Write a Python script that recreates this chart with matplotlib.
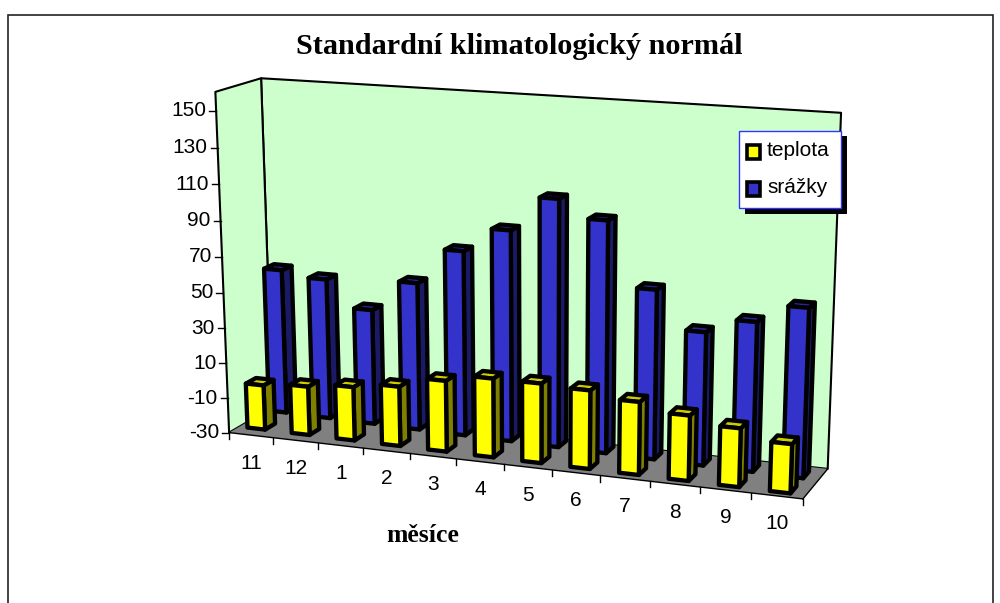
import numpy as np
import matplotlib
matplotlib.use("Agg")
import matplotlib.pyplot as plt
from matplotlib.patches import Polygon, Rectangle

months = ["11", "12", "1", "2", "3", "4", "5", "6", "7", "8", "9", "10"]
teplota = [-2.5, -0.5, 2, 5, 11, 15, 15, 14, 10.5, 6, 2, -3.5]
srazky = [57, 54, 39, 56.5, 76.5, 90, 109, 99.5, 64.5, 44, 52, 62]
z_ticks = [-30, -10, 10, 30, 50, 70, 90, 110, 130, 150]
Z_MIN, Z_MAX = -30, 160

# camera calibration: (category position, depth, value) -> pixel
calib_world = [(0, 0, Z_MIN), (0, 1, Z_MIN), (12, 1, Z_MIN), (12, 0, Z_MIN),
               (0, 0, Z_MAX), (0, 1, Z_MAX), (12, 1, Z_MAX)]
calib_px = [(228, 428), (273.5, 412), (826.7, 466), (804, 501.7),
            (215.5, 94), (261, 76), (841, 113)]
A, b = [], []
for (X, D, Z), (u, v) in zip(calib_world, calib_px):
    A.append([X, D, Z, 1, 0, 0, 0, 0, -u*X, -u*D, -u*Z]); b.append(u)
    A.append([0, 0, 0, 0, X, D, Z, 1, -v*X, -v*D, -v*Z]); b.append(v)
P = np.append(np.linalg.lstsq(np.array(A, float), np.array(b, float), rcond=None)[0], 1).reshape(3, 4)


def proj(x, d, z):
    q = P @ np.array([x, d, z, 1.0])
    return q[0] / q[2], q[1] / q[2]


def face(ax, pts, color, lw=0.0, zo=1, ec="black"):
    ax.add_patch(Polygon([proj(*p) for p in pts], closed=True, facecolor=color,
                         edgecolor=ec, linewidth=lw, joinstyle="round", zorder=zo))


def bar(ax, i, value, d0, d1, front, side, top, zo, lift):
    x0, x1 = i + 0.30, i + 0.70
    zb, zt = Z_MIN + lift * (11 - i) / 11, value
    w = 3.1
    face(ax, [(x1, d0, zb), (x1, d1, zb), (x1, d1, zt), (x1, d0, zt)], side, w, zo)
    face(ax, [(x0, d0, zt), (x1, d0, zt), (x1, d1, zt), (x0, d1, zt)], top, w, zo)
    face(ax, [(x0, d0, zb), (x1, d0, zb), (x1, d0, zt), (x0, d0, zt)], front, w, zo)


fig = plt.figure(figsize=(10, 6.03), dpi=100)
ax = fig.add_axes([0, 0, 1, 1])
ax.set_xlim(0, 1000)
ax.set_ylim(603, 0)
ax.axis("off")

SANS = "Liberation Sans"
SERIF = "Liberation Serif"

ax.add_patch(Rectangle((8, 15), 985, 620, facecolor="white", edgecolor="#222222", linewidth=1.2, zorder=0))

WALL = "#CCFFCC"
face(ax, [(0, 1, Z_MIN), (12, 1, Z_MIN), (12, 1, Z_MAX), (0, 1, Z_MAX)], WALL, 1.5, 1)
face(ax, [(0, 0, Z_MIN), (0, 1, Z_MIN), (0, 1, Z_MAX), (0, 0, Z_MAX)], WALL, 1.5, 1)
face(ax, [(0, 0, Z_MIN), (12, 0, Z_MIN), (12, 1, Z_MIN), (0, 1, Z_MIN)], "#808080", 0.0, 1.2)
for a, c in [((0, 0, Z_MIN), (12, 0, Z_MIN)), ((12, 0, Z_MIN), (12, 1, Z_MIN))]:
    pa, pc = proj(*a), proj(*c)
    ax.plot([pa[0], pc[0]], [pa[1], pc[1]], color="black", lw=1.0, zorder=1.3)

# value axis ticks
for z in z_ticks:
    x, y = proj(0, 0, z)
    ax.plot([x - 7, x], [y, y], color="black", lw=1.0, zorder=1.3)
    ax.text(x - 10, y, str(z), ha="right", va="center", fontsize=15, family=SANS, color="black")

# category ticks and labels
for i, m in enumerate(months + [None]):
    x, y = proj(i, 0, Z_MIN)
    ax.plot([x, x], [y, y + 6], color="black", lw=1.0, zorder=1.3)
    if m is not None:
        lx, ly = proj(i + 0.5, 0, Z_MIN)
        ax.text(lx, ly + 28, m, ha="center", va="center", fontsize=15, family=SANS, color="black")

for i, v in enumerate(srazky):
    bar(ax, i, v, 0.62, 0.85, "#3333CC", "#1A1A66", "#262699", 2 + i * 0.01, 4.5)
for i, v in enumerate(teplota):
    bar(ax, i, v, 0.12, 0.35, "#FFFF00", "#808000", "#CCCC00", 3 + i * 0.01, 2.0)

ax.text(519.5, 46, "Standardní klimatologický normál", ha="center", va="center",
        fontsize=21.8, family=SERIF, fontweight="bold", color="black")
ax.text(423, 535, "měsíce", ha="center", va="center", fontsize=18.5, family=SERIF,
        fontweight="bold", color="black")

# legend
ax.add_patch(Rectangle((745, 136), 102, 78, facecolor="black", edgecolor="none", zorder=5))
ax.add_patch(Rectangle((739, 131), 102, 77, facecolor="white", edgecolor="#3333FF", linewidth=1.0, zorder=6))
for y, col, name in [(151.5, "#FFFF00", "teplota"), (189, "#3333CC", "srážky")]:
    ax.add_patch(Rectangle((747, y - 7), 13, 14, facecolor=col, edgecolor="black", linewidth=2.6, zorder=7))
    ax.text(767, y - 1.5, name, ha="left", va="center", fontsize=15, family=SANS, color="black", zorder=7)

fig.savefig("out.png", dpi=100)
